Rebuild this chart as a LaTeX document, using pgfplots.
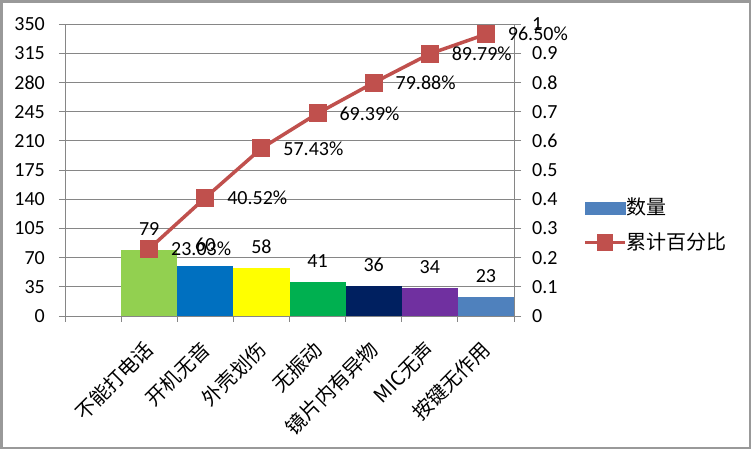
\documentclass[border=0pt]{standalone}
\usepackage{fontspec}
\setmainfont{Carlito}
\newfontfamily\cjk{Noto Sans CJK SC}
\usepackage{pgfplots}
\pgfplotsset{compat=1.18}

\definecolor{gridc}{HTML}{868686}
\definecolor{cA}{HTML}{92D050}
\definecolor{cB}{HTML}{0070C0}
\definecolor{cC}{HTML}{FFFF00}
\definecolor{cD}{HTML}{00B050}
\definecolor{cE}{HTML}{002060}
\definecolor{cF}{HTML}{7030A0}
\definecolor{cG}{HTML}{4F81BD}
\definecolor{lineRed}{HTML}{C0504D}

\begin{document}
\fontsize{20bp}{24bp}\selectfont
\begin{tikzpicture}
  \useasboundingbox (0bp,0bp) rectangle (753bp,451bp);
  % frame
  \fill[white] (0bp,0bp) rectangle (753bp,451bp);
  \fill[gray!80] (0bp,2bp) rectangle (751bp,451bp);
  \fill[white] (3bp,4bp) rectangle (749bp,448bp);

  % bars: counts
  \begin{axis}[
      at={(65bp,135bp)}, anchor=origin,
      scale only axis, width=449bp, height=292bp,
      xmin=0, xmax=8, ymin=0, ymax=350,
      axis x line*=bottom, axis y line*=left,
      axis line style={gridc, line width=0.8bp},
      ytick={0,35,70,105,140,175,210,245,280,315,350},
      yticklabels={0,35,70,105,140,175,210,245,280,315,350},
      ymajorgrids, grid style={gridc, line width=0.8bp},
      xtick={1.5,2.5,3.5,4.5,5.5,6.5,7.5},
      xticklabels={不能打电话,开机无音,外壳划伤,无振动,镜片内有异物,MIC无声,按键无作用},
      minor xtick={0,1,...,8},
      major x tick style={draw=none},
      tick style={gridc, line width=0.8bp},
      tick align=outside, major tick length=6bp, minor tick length=6bp,
      xticklabel style={font=\cjk, xshift=-6bp, yshift=-17bp, rotate=45, anchor=north east, inner sep=0pt},
      yticklabel style={anchor=east, inner sep=0pt, xshift=-14bp},
      /pgf/number format/assume math mode=true,
      nodes near coords,
      every node near coord/.append style={anchor=south, inner sep=0pt, yshift=14bp, black},
      clip=false,
    ]
    \addplot[ybar, bar width=1, bar shift=0, fill=cA, draw=none] coordinates {(1.5,79)};
    \addplot[ybar, bar width=1, bar shift=0, fill=cB, draw=none] coordinates {(2.5,60)};
    \addplot[ybar, bar width=1, bar shift=0, fill=cC, draw=none] coordinates {(3.5,58)};
    \addplot[ybar, bar width=1, bar shift=0, fill=cD, draw=none] coordinates {(4.5,41)};
    \addplot[ybar, bar width=1, bar shift=0, fill=cE, draw=none] coordinates {(5.5,36)};
    \addplot[ybar, bar width=1, bar shift=0, fill=cF, draw=none] coordinates {(6.5,34)};
    \addplot[ybar, bar width=1, bar shift=0, fill=cG, draw=none] coordinates {(7.5,23)};
  \end{axis}

  % line: cumulative share
  \begin{axis}[
      at={(65bp,135bp)}, anchor=origin,
      scale only axis, width=449bp, height=292bp,
      xmin=0, xmax=8, ymin=0, ymax=1,
      axis x line=none, axis y line*=right,
      axis line style={gridc, line width=0.8bp},
      ytick={0,0.1,0.2,0.3,0.4,0.5,0.6,0.7,0.8,0.9,1},
      yticklabels={0,0.1,0.2,0.3,0.4,0.5,0.6,0.7,0.8,0.9,1},
      tick style={gridc, line width=0.8bp},
      tick align=outside, major tick length=7bp,
      yticklabel style={anchor=west, inner sep=0pt, xshift=11bp},
      clip=false,
      legend style={at={(1.154,0.405)}, anchor=north west, draw=none, fill=none,
        inner sep=0pt, row sep=15bp,
        nodes={font=\cjk, inner sep=0pt, xshift=3bp}},
      legend cell align=left,
    ]
    \addlegendimage{legend image code/.code={\fill[cG] (0bp,-6bp) rectangle (40bp,6bp);}}
    \addlegendentry{数量}
    \addplot[lineRed, line width=3.5bp, mark=square*, mark size=8.5bp,
      mark options={fill=lineRed, draw=lineRed, line width=0pt},
      legend image code/.code={
        \draw[lineRed, line width=3.5bp] (0bp,0bp) -- (40bp,0bp);
        \fill[lineRed] (13.5bp,-6.5bp) rectangle (26.5bp,6.5bp);},
      nodes near coords, point meta=explicit symbolic,
      every node near coord/.style={anchor=west, inner sep=0pt, xshift=22bp, black}]
      coordinates {
        (1.5,0.2303) [23.03\%]
        (2.5,0.4052) [40.52\%]
        (3.5,0.5743) [57.43\%]
        (4.5,0.6939) [69.39\%]
        (5.5,0.7988) [79.88\%]
        (6.5,0.8979) [89.79\%]
        (7.5,0.9650) [96.50\%]
      };
    \addlegendentry{累计百分比}
  \end{axis}
\end{tikzpicture}
\end{document}
